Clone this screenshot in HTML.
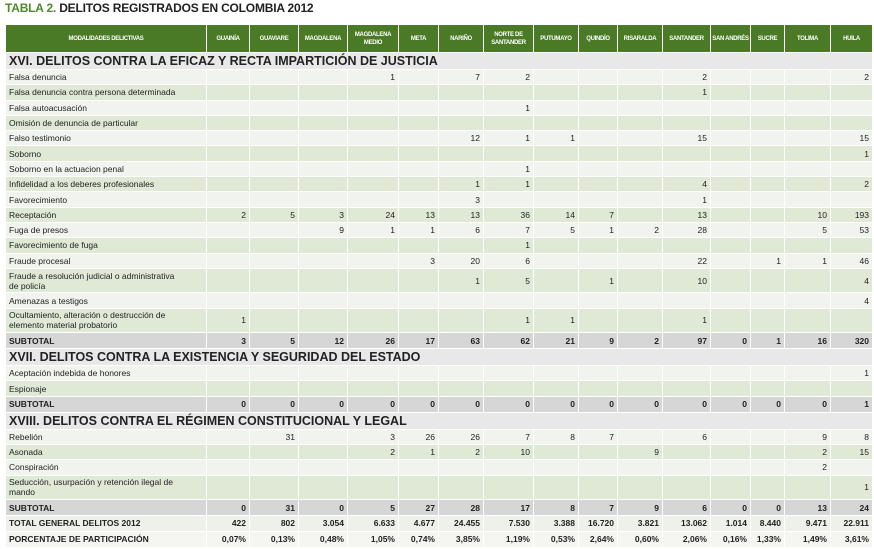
<!DOCTYPE html>
<html><head><meta charset="utf-8">
<style>
body{margin:0;width:874px;height:549px;background:#fff;font-family:"Liberation Sans",sans-serif;position:relative;overflow:hidden}
#title{position:absolute;left:5px;top:1px;font-size:12px;font-weight:bold;color:#222;letter-spacing:-0.2px}
#title span{color:#4f8a2b}
table{position:absolute;left:5px;top:24px;width:867px;border-collapse:collapse;table-layout:fixed;font-size:8.5px;color:#222}
td,th{border:1px solid #fff;padding:0 3px;overflow:hidden;white-space:nowrap}
th{background:#4a7a26;color:#fff;font-size:6px;font-weight:bold;text-align:center;height:27px;line-height:8px;white-space:normal;padding:0 1px;letter-spacing:-0.3px}
td.n{text-align:right}
tr.sec td{background:#e8e8e8;font-size:12.5px;font-weight:bold;color:#222;height:16px;padding-left:3px}
tr.a td{background:#f1f3ee}
tr.b td{background:#e0e8d6}
tr.sub td{background:#d6d6d6;font-weight:bold}
tr.tot td{background:#eef1ea;font-weight:bold}
tr.pct td{background:#f5f6f2;font-weight:bold}
td.w{white-space:normal;line-height:10px;padding-right:28px}
</style></head><body>
<div id="title"><span>TABLA 2.</span> DELITOS REGISTRADOS EN COLOMBIA 2012</div>
<table id="t">
<colgroup><col style="width:201px"><col style="width:43px"><col style="width:49px"><col style="width:49px"><col style="width:51px"><col style="width:40px"><col style="width:45px"><col style="width:50px"><col style="width:45px"><col style="width:39px"><col style="width:45px"><col style="width:48px"><col style="width:40px"><col style="width:34px"><col style="width:46px"><col style="width:42px"></colgroup>
<tbody id="tb"></tbody></table>
<script>
const headers=["MODALIDADES DELICTIVAS","GUAINÍA","GUAVIARE","MAGDALENA","MAGDALENA MEDIO","META","NARIÑO","NORTE DE SANTANDER","PUTUMAYO","QUINDÍO","RISARALDA","SANTANDER","SAN ANDRÉS","SUCRE","TOLIMA","HUILA"];
const _="";
const rows=[
["sec","XVI. DELITOS CONTRA LA EFICAZ Y RECTA IMPARTICIÓN DE JUSTICIA"],
["a","Falsa denuncia",[_,_,_,1,_,7,2,_,_,_,2,_,_,_,2]],
["b","Falsa denuncia contra persona determinada",[_,_,_,_,_,_,_,_,_,_,1,_,_,_,_]],
["a","Falsa autoacusación",[_,_,_,_,_,_,1,_,_,_,_,_,_,_,_]],
["b","Omisión de denuncia de particular",[_,_,_,_,_,_,_,_,_,_,_,_,_,_,_]],
["a","Falso testimonio",[_,_,_,_,_,12,1,1,_,_,15,_,_,_,15]],
["b","Soborno",[_,_,_,_,_,_,_,_,_,_,_,_,_,_,1]],
["a","Soborno en la actuacion penal",[_,_,_,_,_,_,1,_,_,_,_,_,_,_,_]],
["b","Infidelidad a los deberes profesionales",[_,_,_,_,_,1,1,_,_,_,4,_,_,_,2]],
["a","Favorecimiento",[_,_,_,_,_,3,_,_,_,_,1,_,_,_,_]],
["b","Receptación",[2,5,3,24,13,13,36,14,7,_,13,_,_,10,193]],
["a","Fuga de presos",[_,_,9,1,1,6,7,5,1,2,28,_,_,5,53]],
["b","Favorecimiento de fuga",[_,_,_,_,_,_,1,_,_,_,_,_,_,_,_]],
["a","Fraude procesal",[_,_,_,_,3,20,6,_,_,_,22,_,1,1,46]],
["b2","Fraude a resolución judicial o administrativa de policía",[_,_,_,_,_,1,5,_,1,_,10,_,_,_,4]],
["a","Amenazas a testigos",[_,_,_,_,_,_,_,_,_,_,_,_,_,_,4]],
["b2","Ocultamiento, alteración o destrucción de elemento material probatorio",[1,_,_,_,_,_,1,1,_,_,1,_,_,_,_]],
["sub","SUBTOTAL",[3,5,12,26,17,63,62,21,9,2,97,0,1,16,320]],
["sec","XVII. DELITOS CONTRA LA EXISTENCIA Y SEGURIDAD DEL ESTADO"],
["a","Aceptación indebida de honores",[_,_,_,_,_,_,_,_,_,_,_,_,_,_,1]],
["b","Espionaje",[_,_,_,_,_,_,_,_,_,_,_,_,_,_,_]],
["sub","SUBTOTAL",[0,0,0,0,0,0,0,0,0,0,0,0,0,0,1]],
["sec","XVIII. DELITOS CONTRA EL RÉGIMEN CONSTITUCIONAL Y LEGAL"],
["a","Rebelión",[_,31,_,3,26,26,7,8,7,_,6,_,_,9,8]],
["b","Asonada",[_,_,_,2,1,2,10,_,_,9,_,_,_,2,15]],
["a","Conspiración",[_,_,_,_,_,_,_,_,_,_,_,_,_,2,_]],
["b2","Seducción, usurpación y retención ilegal de mando",[_,_,_,_,_,_,_,_,_,_,_,_,_,_,1]],
["sub","SUBTOTAL",[0,31,0,5,27,28,17,8,7,9,6,0,0,13,24]],
["tot","TOTAL GENERAL DELITOS 2012",["422","802","3.054","6.633","4.677","24.455","7.530","3.388","16.720","3.821","13.062","1.014","8.440","9.471","22.911"]],
["pct","PORCENTAJE DE PARTICIPACIÓN",["0,07%","0,13%","0,48%","1,05%","0,74%","3,85%","1,19%","0,53%","2,64%","0,60%","2,06%","0,16%","1,33%","1,49%","3,61%"]]
];
const heights={sec:17,a:15.3,b:15.3,b2:24.5,sub:16,tot:15.5,pct:16};
const tb=document.getElementById('tb');
const hr=document.createElement('tr');


headers.forEach(h=>{const th=document.createElement('th');th.textContent=h;


hr.appendChild(th);});
tb.appendChild(hr);
rows.forEach(r=>{
 const tr=document.createElement('tr');
 const cls=r[0]==='b2'?'b':r[0];
 tr.className=cls;
 tr.style.height=heights[r[0]]+'px';
 
 
 const td=document.createElement('td');td.textContent=r[1];
 
 
 if(r[0]==='sec'){td.colSpan=16;}
 if(r[0]==='b2')td.className='w';
 tr.appendChild(td);
 if(r[2]) r[2].forEach(v=>{const c=document.createElement('td');c.className='n';c.textContent=v;
  
  
  tr.appendChild(c);});
 tb.appendChild(tr);
});
</script>
</body></html>
